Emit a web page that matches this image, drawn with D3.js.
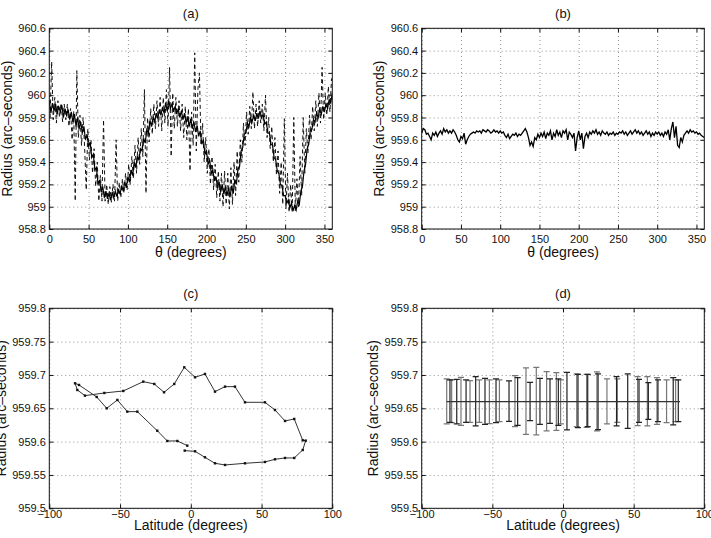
<!DOCTYPE html>
<html>
<head>
<meta charset="utf-8">
<script src="https://cdn.jsdelivr.net/npm/d3@7"></script>
<style>
  html, body { margin: 0; padding: 0; background: #fff; }
  svg { display: block; }
  text { font-family: "Liberation Sans", Arial, Helvetica, sans-serif; fill: #111; }
</style>
</head>
<body>
<svg id="chart" width="711" height="538"></svg>
<script>
// ---------------- DATA ----------------
// Panel (a): radius vs theta — solid series (every 2 degrees, 0..360)
const thetaSolidA = d3.range(0, 361, 2);
const radiusSolidA = [
959.95,959.84,959.93,959.86,959.92,959.83,959.90,959.85,959.91,959.80,
959.88,959.82,959.87,959.78,959.85,959.76,959.83,959.72,959.80,959.70,
959.76,959.66,959.72,959.60,959.65,959.54,959.58,959.44,959.47,959.33,
959.35,959.20,959.24,959.13,959.18,959.08,959.14,959.07,959.12,959.06,
959.13,959.08,959.14,959.09,959.16,959.11,959.19,959.14,959.22,959.17,
959.27,959.22,959.33,959.28,959.40,959.35,959.45,959.42,959.52,959.50,
959.61,959.57,959.69,959.66,959.77,959.72,959.80,959.76,959.84,959.79,
959.87,959.82,959.89,959.84,959.93,959.86,959.95,959.88,959.92,959.85,
959.90,959.83,959.88,959.80,959.86,959.78,959.84,959.75,959.81,959.72,
959.79,959.70,959.76,959.67,959.73,959.63,959.68,959.56,959.60,959.47,
959.50,959.38,959.42,959.30,959.33,959.23,959.27,959.17,959.22,959.13,
959.20,959.11,959.18,959.10,959.17,959.09,959.19,959.12,959.24,959.20,
959.34,959.36,959.50,959.53,959.65,959.66,959.75,959.72,959.80,959.76,
959.82,959.77,959.84,959.79,959.86,959.80,959.83,959.74,959.76,959.66,
959.66,959.56,959.55,959.44,959.42,959.32,959.30,959.20,959.19,959.10,
959.10,959.03,959.06,958.99,959.03,958.96,959.01,958.97,959.05,959.02,
959.14,959.18,959.32,959.38,959.52,959.56,959.68,959.69,959.78,959.76,
959.84,959.80,959.87,959.83,959.90,959.85,959.92,959.88,959.96,959.93,
960.02
];
// Panel (a): dashed series (odd degrees 1..359)
const thetaDashedA = d3.range(1, 360, 2);
const radiusDashedA = [
959.80,960.30,959.78,959.98,959.75,959.95,959.80,959.93,959.76,959.92,
959.78,959.92,959.72,959.88,959.60,959.86,959.05,960.22,959.62,959.82,
959.55,959.80,959.52,959.15,959.70,959.42,959.60,959.30,959.52,959.18,
959.40,959.05,959.28,959.05,959.78,959.05,959.20,959.02,959.18,959.04,
959.20,959.05,959.60,959.05,959.22,959.08,959.25,959.12,959.30,959.15,
959.38,959.20,959.45,959.25,959.55,959.30,959.62,959.38,959.70,959.45,
960.05,959.12,959.80,959.58,959.88,959.65,959.92,959.70,959.95,959.72,
959.98,959.68,959.98,959.75,960.05,959.72,960.25,959.45,960.02,959.70,
959.98,959.72,959.95,959.68,959.92,959.62,959.90,959.60,959.88,959.32,
959.85,959.55,960.38,959.50,960.05,960.20,959.55,959.75,959.40,959.62,
959.30,959.52,959.20,959.45,959.15,959.38,959.08,959.32,959.05,959.30,
959.00,959.32,959.02,959.30,958.98,959.35,959.02,959.40,959.10,959.50,
959.22,959.60,959.40,959.75,959.55,959.85,959.65,959.90,959.70,960.03,
959.70,959.92,959.72,959.95,959.75,959.92,959.68,960.00,959.62,959.80,
959.52,959.72,959.40,959.62,959.28,959.50,959.12,959.40,959.02,959.79,
958.98,959.30,958.95,959.20,958.95,959.80,958.96,959.25,959.00,959.45,
959.10,959.80,959.30,959.70,959.48,959.82,959.60,959.90,959.68,959.95,
959.72,960.02,959.75,960.25,959.78,960.02,959.82,960.08,959.85,960.15
];
// Panel (b): corrected radius vs theta (every 2 degrees)
const thetaB = d3.range(0, 361, 2);
const radiusB = [
959.66,959.70,959.69,959.65,959.66,959.63,959.60,959.66,959.64,959.67,
959.63,959.66,959.68,959.65,959.70,959.67,959.69,959.66,959.68,959.66,
959.69,959.67,959.64,959.60,959.58,959.63,959.61,959.66,959.56,959.60,
959.63,959.65,959.66,959.67,959.66,959.68,959.67,959.68,959.66,959.69,
959.68,959.67,959.69,959.68,959.66,959.67,959.69,959.67,959.68,959.66,
959.68,959.66,959.67,959.64,959.62,959.65,959.61,959.63,959.65,959.64,
959.66,959.63,959.65,959.64,959.66,959.68,959.70,959.67,959.62,959.55,
959.58,959.54,959.62,959.60,959.65,959.62,959.66,959.63,959.67,959.61,
959.66,959.64,959.68,959.60,959.66,959.63,959.69,959.64,959.67,959.62,
959.68,959.66,959.69,959.60,959.67,959.65,959.62,959.66,959.50,959.62,
959.68,959.60,959.66,959.52,959.63,959.66,959.62,959.67,959.65,959.68,
959.66,959.69,959.65,959.67,959.64,959.68,959.66,959.65,959.67,959.64,
959.66,959.65,959.67,959.64,959.66,959.65,959.67,959.66,959.68,959.65,
959.67,959.64,959.66,959.68,959.65,959.67,959.69,959.66,959.68,959.65,
959.67,959.64,959.66,959.68,959.65,959.67,959.63,959.66,959.64,959.67,
959.65,959.67,959.64,959.66,959.63,959.67,959.65,959.69,959.60,959.70,
959.76,959.62,959.72,959.55,959.53,959.62,959.58,959.64,959.66,959.68,
959.66,959.69,959.67,959.68,959.66,959.67,959.65,959.66,959.64,959.63,
959.62
];
// Panel (c): mean radius vs latitude (path order)
const latC = [
-4.3,3.0,10.0,17.1,24.2,38.3,52.4,59.5,66.6,73.1,79.1,81.2,
79.1,73.1,66.6,59.5,52.4,38.3,31.2,24.2,17.1,10.0,3.0,-4.6,
-11.7,-18.9,-25.8,-33.6,-47.7,-61.1,-74.8,-80.2,-81.8,-79.0,
-66.5,-59.4,-51.9,-44.9,-37.8,-23.7,-16.6,-9.5,-2.5
];
const radiusC = [
959.5865,959.5855,959.5765,959.5675,959.5650,959.5675,959.5695,959.5735,959.5755,959.5755,959.5875,959.6015,
959.6020,959.6340,959.6310,959.6475,959.6590,959.6590,959.6825,959.6825,959.6750,959.7015,959.6965,959.7115,
959.6865,959.6740,959.6865,959.6900,959.6760,959.6730,959.6690,959.6775,959.6875,959.6850,
959.6670,959.6500,959.6625,959.6450,959.6450,959.6164,959.6010,959.6010,959.5940
];
// Panel (d): error bars (two interleaved sets) and mean line
const latD1   = [-82.3,-78.8,-72.2,-65.8,-59.2,-52.1,-45.0,-34.0,-26.2,-18.9,-11.6,-4.7,-1.7,9.7,16.7,24.0,31.1,38.4,52.8,59.7,66.5,73.3,79.7];
const upperD1 = [959.694,959.6925,959.6965,959.6915,959.6925,959.6925,959.6925,959.699,959.7105,959.7115,959.705,959.7035,959.6925,959.7015,959.701,959.7045,959.694,959.694,959.6975,959.6975,959.696,959.6925,959.6925];
const lowerD1 = [959.6265,959.6285,959.6245,959.629,959.629,959.627,959.630,959.6225,959.611,959.610,959.616,959.617,959.6265,959.6225,959.6215,959.616,959.6265,959.629,959.624,959.6235,959.626,959.6285,959.630];
const latD2   = [-80.0,-75.2,-68.6,-61.8,-55.2,-47.4,-38.2,-32.1,-23.3,-16.3,-9.2,-3.3,2.8,10.6,17.5,24.8,37.9,45.8,53.8,60.4,67.2,78.0,81.6];
const upperD2 = [959.6925,959.6935,959.6925,959.6975,959.695,959.694,959.691,959.696,959.689,959.695,959.694,959.694,959.704,959.701,959.701,959.7015,959.6975,959.7015,959.6935,959.6885,959.6925,959.696,959.6925];
const lowerD2 = [959.629,959.6265,959.629,959.6235,959.626,959.6285,959.6305,959.6245,959.6315,959.626,959.6275,959.6245,959.6175,959.621,959.6225,959.618,959.6235,959.620,959.629,959.6335,959.630,959.625,959.630];
const meanLineLat = [-82.3, 82.8];
const meanLineVal = [959.66, 959.66];

// Axis ticks
const thetaTicks = [0, 50, 100, 150, 200, 250, 300, 350];
const radiusTicksAB = [958.8, 959, 959.2, 959.4, 959.6, 959.8, 960, 960.2, 960.4, 960.6];
const latTicks = [-100, -50, 0, 50, 100];
const radiusTicksCD = [959.5, 959.55, 959.6, 959.65, 959.7, 959.75, 959.8];

// ---------------- DRAWING ----------------
const svg = d3.select("#chart");
svg.append("rect").attr("width", 711).attr("height", 538).attr("fill", "#fff");

function fmtNum(d) {
  const s = String(+d.toFixed(3));
  return d < 0 ? "\u2212" + s.slice(1) : s;
}

function panel(o) {
  const x = d3.scaleLinear().domain(o.xDomain).range([o.left, o.right]);
  const y = d3.scaleLinear().domain(o.yDomain).range([o.bottom, o.top]);
  const g = svg.append("g");
  const W = o.right - o.left, H = o.bottom - o.top;

  // grid
  const gx = g.append("g").attr("transform", `translate(0,${o.bottom})`)
    .call(d3.axisBottom(x).tickValues(o.xTicks).tickSize(-H).tickFormat(""));
  gx.select(".domain").remove();
  gx.selectAll("line").attr("stroke", "#777").attr("stroke-width", 0.8).attr("stroke-dasharray", "1,3");
  const gy = g.append("g").attr("transform", `translate(${o.left},0)`)
    .call(d3.axisLeft(y).tickValues(o.yTicks).tickSize(-W).tickFormat(""));
  gy.select(".domain").remove();
  gy.selectAll("line").attr("stroke", "#777").attr("stroke-width", 0.8).attr("stroke-dasharray", "1,3");

  // clip
  const cid = "clip" + o.id;
  svg.append("clipPath").attr("id", cid).append("rect")
    .attr("x", o.left).attr("y", o.top).attr("width", W).attr("height", H);
  const plot = g.append("g").attr("clip-path", `url(#${cid})`);

  o.draw(plot, x, y);

  // box
  g.append("rect").attr("x", o.left).attr("y", o.top).attr("width", W).attr("height", H)
    .attr("fill", "none").attr("stroke", "#111").attr("stroke-width", 1);

  // axes (inward ticks)
  const ab = g.append("g").attr("transform", `translate(0,${o.bottom})`)
    .call(d3.axisBottom(x).tickValues(o.xTicks).tickSizeInner(-4).tickSizeOuter(0).tickPadding(o.xPad).tickFormat(fmtNum));
  const at = g.append("g").attr("transform", `translate(0,${o.top})`)
    .call(d3.axisTop(x).tickValues(o.xTicks).tickSizeInner(-4).tickSizeOuter(0).tickFormat(""));
  const al = g.append("g").attr("transform", `translate(${o.left},0)`)
    .call(d3.axisLeft(y).tickValues(o.yTicks).tickSizeInner(-4).tickSizeOuter(0).tickPadding(3.5).tickFormat(fmtNum));
  const ar = g.append("g").attr("transform", `translate(${o.right},0)`)
    .call(d3.axisRight(y).tickValues(o.yTicks).tickSizeInner(-4).tickSizeOuter(0).tickFormat(""));
  [ab, at, al, ar].forEach(a => {
    a.select(".domain").remove();
    a.selectAll("line").attr("stroke", "#111");
    a.selectAll("text").attr("font-size", 11).attr("fill", "#111")
      .style("font-family", '"Liberation Sans", Arial, sans-serif');
  });

  // title
  g.append("text").attr("x", (o.left + o.right) / 2).attr("y", o.top - 10)
    .attr("text-anchor", "middle").attr("font-size", 13).text(o.title);
  // x label
  g.append("text").attr("x", (o.left + o.right) / 2).attr("y", o.xLabelY)
    .attr("text-anchor", "middle").attr("font-size", 14).text(o.xLabel);
  // y label
  g.append("text").attr("transform", `translate(${o.yLabelX},${(o.top + o.bottom) / 2}) rotate(-90)`)
    .attr("text-anchor", "middle").attr("font-size", 14).text(o.yLabel);
}

const rowTop1 = 28.3, rowBot1 = 229, rowTop2 = 308.3, rowBot2 = 508.3;
const colL1 = 49.3, colR1 = 332.3, colL2 = 421.7, colR2 = 704.3;

panel({
  id: "a", left: colL1, right: colR1, top: rowTop1, bottom: rowBot1, xPad: 6, xLabelY: 256.5,
  xDomain: [0, 360], yDomain: [958.8, 960.6], xTicks: thetaTicks, yTicks: radiusTicksAB,
  title: "(a)", xLabel: "\u03b8 (degrees)", yLabel: "Radius (arc\u2013seconds)", yLabelX: 12,
  draw: (p, x, y) => {
    const ld = d3.line().x((d, i) => x(thetaDashedA[i])).y(d => y(d));
    p.append("path").datum(radiusDashedA).attr("d", ld).attr("fill", "none")
      .attr("stroke", "#111").attr("stroke-width", 1).attr("stroke-dasharray", "4,3");
    const ls = d3.line().x((d, i) => x(thetaSolidA[i])).y(d => y(d));
    p.append("path").datum(radiusSolidA).attr("d", ls).attr("fill", "none")
      .attr("stroke", "#000").attr("stroke-width", 1.2);
  }
});

panel({
  id: "b", left: colL2, right: colR2, top: rowTop1, bottom: rowBot1, xPad: 6, xLabelY: 256.5,
  xDomain: [0, 360], yDomain: [958.8, 960.6], xTicks: thetaTicks, yTicks: radiusTicksAB,
  title: "(b)", xLabel: "\u03b8 (degrees)", yLabel: "Radius (arc\u2013seconds)", yLabelX: 384,
  draw: (p, x, y) => {
    const l = d3.line().x((d, i) => x(thetaB[i])).y(d => y(d));
    p.append("path").datum(radiusB).attr("d", l).attr("fill", "none")
      .attr("stroke", "#000").attr("stroke-width", 1.3);
  }
});

panel({
  id: "c", left: colL1, right: colR1, top: rowTop2, bottom: rowBot2, xPad: 1.5, xLabelY: 530,
  xDomain: [-100, 100], yDomain: [959.5, 959.8], xTicks: latTicks, yTicks: radiusTicksCD,
  title: "(c)", xLabel: "Latitude (degrees)", yLabel: "Radius (arc\u2013seconds)", yLabelX: 6,
  draw: (p, x, y) => {
    const l = d3.line().x((d, i) => x(latC[i])).y(d => y(d));
    p.append("path").datum(radiusC).attr("d", l).attr("fill", "none")
      .attr("stroke", "#333").attr("stroke-width", 1);
    p.selectAll("rect.m").data(radiusC).enter().append("rect")
      .attr("x", (d, i) => x(latC[i]) - 1.2).attr("y", d => y(d) - 1.2)
      .attr("width", 2.4).attr("height", 2.4).attr("fill", "#111");
  }
});

panel({
  id: "d", left: colL2, right: colR2, top: rowTop2, bottom: rowBot2, xPad: 1.5, xLabelY: 530,
  xDomain: [-100, 100], yDomain: [959.5, 959.8], xTicks: latTicks, yTicks: radiusTicksCD,
  title: "(d)", xLabel: "Latitude (degrees)", yLabel: "Radius (arc\u2013seconds)", yLabelX: 378,
  draw: (p, x, y) => {
    const cap = 3;
    function bars(lat, up, lo, color) {
      const gb = p.append("g").attr("stroke", color).attr("stroke-width", 1.2);
      lat.forEach((la, i) => {
        const cx = x(la);
        gb.append("line").attr("x1", cx).attr("x2", cx).attr("y1", y(up[i])).attr("y2", y(lo[i]));
        gb.append("line").attr("x1", cx - cap).attr("x2", cx + cap).attr("y1", y(up[i])).attr("y2", y(up[i]));
        gb.append("line").attr("x1", cx - cap).attr("x2", cx + cap).attr("y1", y(lo[i])).attr("y2", y(lo[i]));
      });
    }
    bars(latD1, upperD1, lowerD1, "#777");
    bars(latD2, upperD2, lowerD2, "#222");
    p.append("line").attr("x1", x(meanLineLat[0])).attr("x2", x(meanLineLat[1]))
      .attr("y1", y(meanLineVal[0])).attr("y2", y(meanLineVal[1]))
      .attr("stroke", "#333").attr("stroke-width", 1.2);
  }
});
</script>
</body>
</html>
